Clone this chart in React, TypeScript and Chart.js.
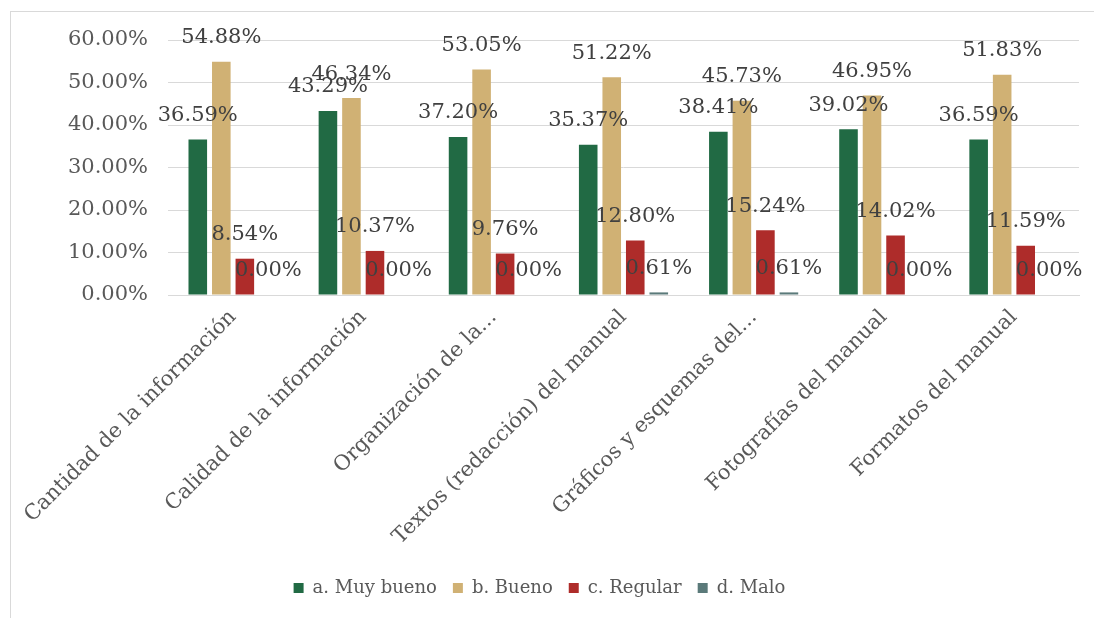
import React, { useEffect, useRef } from "react";
import { Chart, registerables } from "chart.js";

Chart.register(...registerables);

const categories = [
  "Cantidad de la información",
  "Calidad de la información",
  "Organización de la...",
  "Textos (redacción) del manual",
  "Gráficos y esquemas del...",
  "Fotografías del manual",
  "Formatos del manual",
];

const muyBueno = [36.59, 43.29, 37.2, 35.37, 38.41, 39.02, 36.59];
const bueno = [54.88, 46.34, 53.05, 51.22, 45.73, 46.95, 51.83];
const regular = [8.54, 10.37, 9.76, 12.8, 15.24, 14.02, 11.59];
const malo = [0.0, 0.0, 0.0, 0.61, 0.61, 0.0, 0.0];

const seriesNames = ["a. Muy bueno", "b. Bueno", "c. Regular", "d. Malo"];
const seriesColors = ["#216A44", "#D0B174", "#AE2C2A", "#5B7A7A"];

const yTicks = [0, 10, 20, 30, 40, 50, 60];

const FONT = "'DejaVu Serif', serif";

// Writes each bar's value above its top, like Excel's data labels.
const valueLabels = {
  id: "valueLabels",
  afterDatasetsDraw(chart: any) {
    const ctx = chart.ctx;
    ctx.save();
    ctx.font = `21px ${FONT}`;
    ctx.fillStyle = "#404040";
    ctx.textAlign = "center";
    ctx.textBaseline = "middle";
    chart.data.datasets.forEach((ds: any, di: number) => {
      const meta = chart.getDatasetMeta(di);
      meta.data.forEach((el: any, i: number) => {
        const v = ds.data[i] as number;
        ctx.fillText(v.toFixed(2) + "%", el.x, el.y - 24);
      });
    });
    ctx.restore();
  },
};

export default function App() {
  const ref = useRef<HTMLCanvasElement | null>(null);

  useEffect(() => {
    if (!ref.current) return;
    const data = [muyBueno, bueno, regular, malo];
    const chart = new Chart(ref.current, {
      type: "bar",
      data: {
        labels: categories,
        datasets: data.map((d, i) => ({
          label: seriesNames[i],
          data: d,
          backgroundColor: seriesColors[i],
          borderWidth: 0,
          categoryPercentage: 0.723,
          barPercentage: 0.79,
        })),
      },
      options: {
        animation: false,
        responsive: false,
        maintainAspectRatio: false,
        layout: { padding: { left: 0, right: 15, top: 40, bottom: 11 } },
        plugins: {
          tooltip: { enabled: false },
          legend: {
            position: "bottom",
            labels: {
              font: { family: FONT, size: 18 },
              color: "#595959",
              boxWidth: 10,
              boxHeight: 10,
              padding: 16,
            },
          },
        },
        scales: {
          x: {
            grid: { display: false },
            border: { display: true, color: "#D9D9D9", width: 1 },
            ticks: {
              font: { family: FONT, size: 21 },
              color: "#595959",
              minRotation: 45,
              maxRotation: 45,
              autoSkip: false,
              padding: 2,
            },
            afterFit(scale: any) {
              scale.height = 268;
            },
          },
          y: {
            min: 0,
            max: 60,
            afterBuildTicks(scale: any) {
              scale.ticks = yTicks.map((v) => ({ value: v }));
            },
            grid: { color: "#D9D9D9", lineWidth: 1, drawTicks: false },
            border: { display: false },
            ticks: {
              font: { family: FONT, size: 21 },
              color: "#595959",
              padding: 20,
              callback: (v: any) => Number(v).toFixed(2) + "%",
            },
            afterFit(scale: any) {
              scale.width = 168;
            },
          },
        },
      },
      plugins: [valueLabels],
    });
    return () => chart.destroy();
  }, []);

  return (
    <div style={{ position: "fixed", left: 0, top: 0, width: 1094, height: 618, background: "#fff" }}>
      <div
        style={{
          position: "absolute",
          left: 10,
          top: 11,
          width: 1100,
          height: 620,
          borderLeft: "1px solid #D9D9D9",
          borderTop: "1px solid #D9D9D9",
        }}
      />
      <canvas ref={ref} width={1094} height={618} style={{ position: "absolute", left: 0, top: 0 }} />
    </div>
  );
}
